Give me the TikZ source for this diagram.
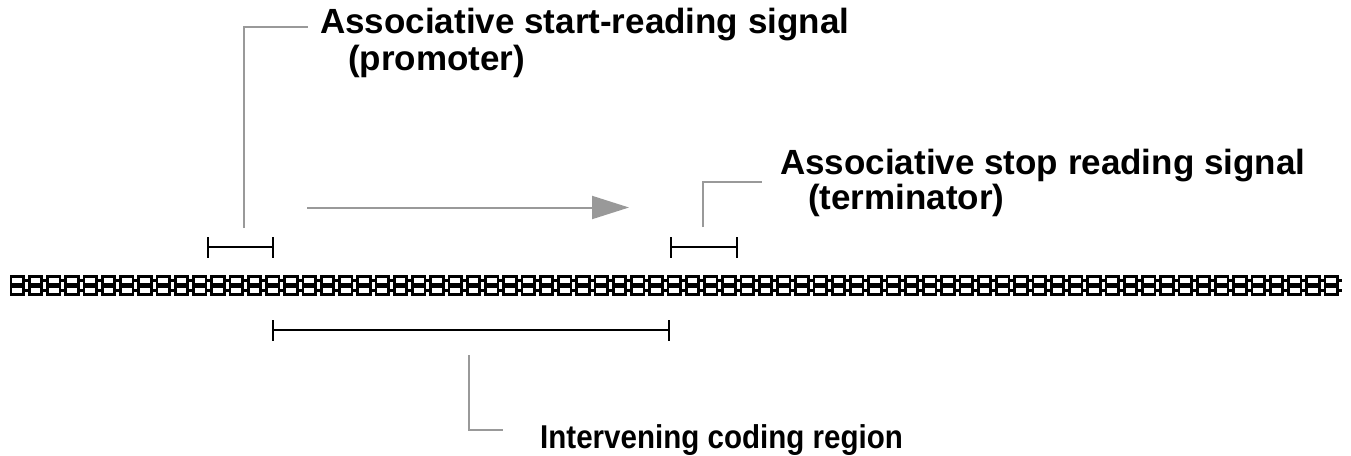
\documentclass[tikz,border=0pt]{standalone}
\usepackage{fontspec}
\setmainfont{Liberation Sans}
\newfontfamily\narrowlbl[FakeStretch=0.895]{Liberation Sans}
\usetikzlibrary{arrows.meta}
\definecolor{leadgray}{gray}{0.6}
\tikzset{
  lead/.style={draw=leadgray, line width=2pt},
  brk/.style={draw=black, line width=2pt},
  lbl/.style={anchor=base west, inner sep=0pt, font=\fontsize{35}{38}\selectfont\bfseries},
  lblnarrow/.style={anchor=base west, inner sep=0pt, font=\narrowlbl\fontsize{33}{36}\selectfont\bfseries},
  cell/.style={draw=black, line width=2.6pt, fill=white},
}
\begin{document}
\begin{tikzpicture}[x=1pt,y=-1pt]
\useasboundingbox (0,0) rectangle (1351,455);
% DNA strand
\foreach \i in {0,...,72}{
  \pgfmathsetmacro{\xx}{10+18.25*\i}
  \draw[black, line width=2.6pt] (\xx+13,280.5) -- ++(5.25,0) (\xx+13,290.5) -- ++(5.25,0);
  \draw[cell] (\xx+1,276.5) rectangle ++(12.5,8);
  \draw[cell] (\xx+1,286.5) rectangle ++(12.5,8);
}
% brackets
\coordinate (pL) at (208,247); \coordinate (pR) at (273,247);
\coordinate (tL) at (671,247); \coordinate (tR) at (737,247);
\coordinate (cL) at (273,330); \coordinate (cR) at (669,330);
\draw[brk] (pL) -- (pR) (pL)++(0,-10) -- ++(0,21) (pR)++(0,-10) -- ++(0,21);
\draw[brk] (tL) -- (tR) (tL)++(0,-10) -- ++(0,21) (tR)++(0,-10) -- ++(0,21);
\draw[brk] (cL) -- (cR) (cL)++(0,-10) -- ++(0,21) (cR)++(0,-10) -- ++(0,21);
% labels
\node[lbl] (s1) at (320,33) {Associative start-reading signal};
\node[lbl] (s2) at (348,70) {(promoter)};
\node[lbl] (t1) at (780,174) {Associative stop reading signal};
\node[lbl] (t2) at (808,209) {(terminator)};
\node[lblnarrow] (c1) at (540,448) {Intervening coding region};
% leader lines
\coordinate (sA) at (244,228); \coordinate (sB) at (308,27);
\draw[lead] (sA) |- (sB);
\coordinate (tA) at (703,227); \coordinate (tB) at (762,182);
\draw[lead] (tA) |- (tB);
\coordinate (cA) at (469,355); \coordinate (cB) at (503,430);
\draw[lead] (cA) |- (cB);
% arrow
\coordinate (a1) at (307,207.5); \coordinate (a2) at (629,207.5);
\draw[lead, -{Triangle[length=37pt,width=23pt]}] (a1) -- (a2);
\end{tikzpicture}
\end{document}
